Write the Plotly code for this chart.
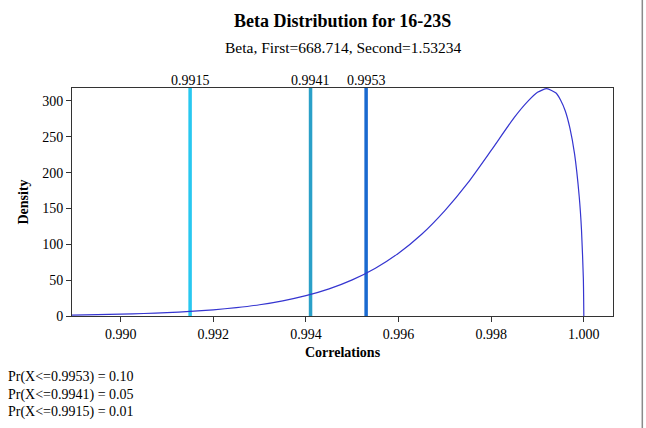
import plotly.graph_objects as go

# Curve points (Correlations vs Density)
corr = [0.98895, 0.9895, 0.9900, 0.9905, 0.9910, 0.9915, 0.9920, 0.9925, 0.9930,
        0.9935, 0.9940, 0.9945, 0.9950, 0.9955, 0.9960, 0.9965, 0.9970, 0.9975,
        0.9980, 0.9985, 0.9988, 0.9990, 0.9992, 0.9994, 0.9995, 0.9996, 0.9997, 0.9998,
        0.9999, 0.99995, 0.99999, 1.0000]
density = [1.2, 1.9, 2.5, 3.5, 4.7, 6.4, 8.6, 11.7, 15.7,
           21.2, 28.4, 37.9, 50.4, 66.7, 87.6, 114, 147, 186,
           231, 277, 300, 312, 317, 311, 301, 286, 262, 226,
           167, 120, 52, 0]

# Percentile lines
pct_values = [0.9915, 0.9941, 0.9953]
pct_labels = ["0.9915", "0.9941", "0.9953"]
pct_colors = ["#28c8f0", "#2aa0c8", "#1a6ad0"]

prob_lines = ["Pr(X<=0.9953) = 0.10", "Pr(X<=0.9941) = 0.05", "Pr(X<=0.9915) = 0.01"]

x_ticks = [0.990, 0.992, 0.994, 0.996, 0.998, 1.000]
x_tick_text = ["0.990", "0.992", "0.994", "0.996", "0.998", "1.000"]
y_ticks = [0, 50, 100, 150, 200, 250, 300]

FONT = "Liberation Serif"
L, T, W, H = 72, 88, 540.7, 228.0


def py(p):
    return (T + H - p) / H


def px(p):
    return (p - L) / W


fig = go.Figure()
for v, c in zip(pct_values, pct_colors):
    fig.add_trace(go.Scatter(x=[v, v], y=[0, 318], mode="lines",
                             line=dict(color=c, width=3.5), hoverinfo="skip",
                             showlegend=False))
fig.add_trace(go.Scatter(x=corr, y=density, mode="lines",
                         line=dict(color="#3535d0", width=1.2, shape="spline", smoothing=0.6),
                         showlegend=False))

for v, t in zip(pct_values, pct_labels):
    fig.add_annotation(x=v, y=1, xref="x", yref="paper", text=t, showarrow=False,
                       yanchor="bottom", yshift=-2,
                       font=dict(family=FONT, size=14, color="black"))

for i, t in enumerate(prob_lines):
    fig.add_annotation(x=px(6), y=py(377 + i * 17.5), xref="paper", yref="paper", text=t,
                       showarrow=False, xanchor="left", yanchor="middle",
                       font=dict(family=FONT, size=14, color="black"))

fig.add_annotation(x=0.5, y=py(21), xref="paper", yref="paper",
                   text="<b>Beta Distribution for 16-23S</b>", showarrow=False,
                   yanchor="middle", font=dict(family=FONT, size=18, color="black"))
fig.add_annotation(x=0.5, y=py(47), xref="paper", yref="paper",
                   text="Beta, First=668.714, Second=1.53234", showarrow=False,
                   yanchor="middle", font=dict(family=FONT, size=15.5, color="black"))

fig.add_shape(type="line", xref="paper", yref="paper",
              x0=px(642), x1=px(642), y0=py(428), y1=py(0),
              line=dict(color="#8a8a8a", width=1.5))

fig.update_layout(
    width=646, height=428,
    margin=dict(l=72, r=33, t=88, b=112),
    paper_bgcolor="white", plot_bgcolor="white",
    font=dict(family=FONT, size=14, color="black"),
    xaxis=dict(range=[0.98895, 1.00063], tickvals=x_ticks, ticktext=x_tick_text,
               showgrid=False, zeroline=False, showline=True, linecolor="#333",
               linewidth=1, mirror=True, ticks="outside", ticklen=5, tickcolor="#333",
               tickfont=dict(family=FONT, size=14),
               title=dict(text="<b>Correlations</b>", font=dict(family=FONT, size=14), standoff=6)),
    yaxis=dict(range=[0, 318], tickvals=y_ticks, showgrid=False, zeroline=False,
               showline=True, linecolor="#333", linewidth=1, mirror=True,
               ticks="outside", ticklen=5, tickcolor="#333",
               tickfont=dict(family=FONT, size=14),
               title=dict(text="<b>Density</b>", font=dict(family=FONT, size=14), standoff=10)),
)

fig.write_html("out.html")
